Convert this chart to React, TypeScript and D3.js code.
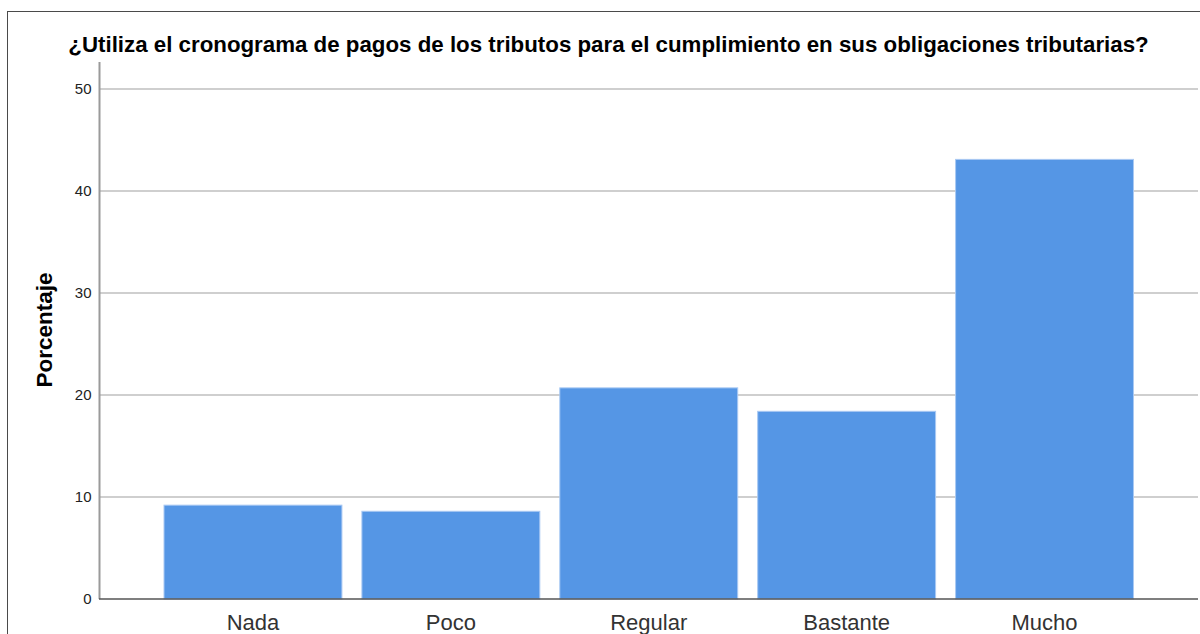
import React from "react";
import * as d3 from "d3";

const categories = ["Nada", "Poco", "Regular", "Bastante", "Mucho"];
const percentages = [9.2, 8.6, 20.7, 18.4, 43.1];
const yTicks = [0, 10, 20, 30, 40, 50];
const title = "¿Utiliza el cronograma de pagos de los tributos para el cumplimiento en sus obligaciones tributarias?";
const yLabel = "Porcentaje";

const W = 1200;
const H = 634;
const FONT = "'Liberation Sans', Arial, sans-serif";

export default function App() {
  const x = d3
    .scaleBand<string>()
    .domain(categories)
    .range([99.5, 1198])
    .paddingInner(0.101)
    .paddingOuter(0.326);
  const y = d3.scaleLinear().domain([0, 50]).range([599, 89]);
  const axisTop = 62;

  return (
    <div style={{ position: "absolute", left: 0, top: 0 }}>
      <svg width={W} height={H} style={{ display: "block", background: "#fff" }}>
        <rect x={7.5} y={11.5} width={1200} height={640} fill="#fff" stroke="#4a4a4a" strokeWidth={1} />
        <text
          x={608.5}
          y={52}
          textAnchor="middle"
          fontFamily={FONT}
          fontWeight="bold"
          fontSize={22.3}
          fill="#000"
        >
          {title}
        </text>
        {yTicks.filter((t) => t > 0).map((t) => (
          <line key={"g" + t} x1={100} x2={1198} y1={y(t)} y2={y(t)} stroke="#cfcfcf" strokeWidth={2} />
        ))}
        {categories.map((c, i) => (
          <rect
            key={c}
            x={x(c)}
            y={y(percentages[i])}
            width={x.bandwidth()}
            height={y(0) - y(percentages[i])}
            fill="#5596e5"
            stroke="#a9c9f3"
            strokeWidth={1}
          />
        ))}
        <line x1={99.5} x2={99.5} y1={axisTop} y2={599} stroke="#9a9a9a" strokeWidth={2} />
        <line x1={99} x2={1198} y1={599} y2={599} stroke="#555" strokeWidth={1.5} />
        {yTicks.map((t) => (
          <text
            key={"t" + t}
            x={91.5}
            y={y(t)}
            dy="0.35em"
            textAnchor="end"
            fontFamily={FONT}
            fontSize={15}
            fill="#222"
          >
            {t}
          </text>
        ))}
        {categories.map((c) => (
          <text
            key={"l" + c}
            x={(x(c) as number) + x.bandwidth() / 2}
            y={630}
            textAnchor="middle"
            fontFamily={FONT}
            fontSize={22}
            fill="#333"
          >
            {c}
          </text>
        ))}
        <text
          transform={`translate(52,330) rotate(-90)`}
          textAnchor="middle"
          fontFamily={FONT}
          fontWeight="bold"
          fontSize={22.5}
          fill="#000"
        >
          {yLabel}
        </text>
      </svg>
    </div>
  );
}
